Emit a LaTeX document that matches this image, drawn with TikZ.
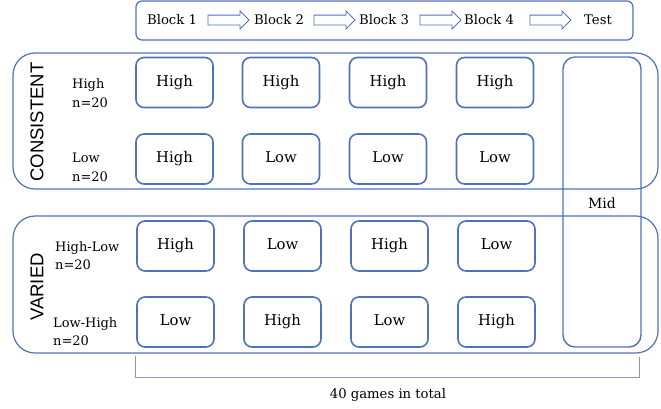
\documentclass[tikz,border=0pt]{standalone}
\usepackage{fontspec}
\setmainfont{DejaVu Serif}
\newfontfamily\grpfont{Liberation Sans}
\usetikzlibrary{shapes.arrows}
\definecolor{bl}{RGB}{80,114,188}
\definecolor{brk}{RGB}{140,150,172}
\begin{document}
\begin{tikzpicture}[x=1pt,y=-1pt,
  cell/.style={draw=bl,line width=1.6pt,rounded corners=8pt,minimum width=77pt,minimum height=50pt,inner sep=0pt,text height=0.73em,text depth=0pt,font=\fontsize{14.8}{17}\selectfont},
  group/.style={draw=bl,line width=1.2pt,rounded corners=22pt},
  blk/.style={font=\fontsize{13.2}{15}\selectfont,inner sep=0pt},
  flow/.style={single arrow,draw=bl,line width=0.9pt,minimum height=41pt,inner sep=4.5pt,single arrow head extend=4pt},
  rowlab/.style={align=left,anchor=west,inner sep=0pt,font=\fontsize{13}{18.5}\selectfont},
  grplab/.style={rotate=90,inner sep=0pt,font=\grpfont\fontsize{18.5}{20}\selectfont}]
\useasboundingbox (0,0) rectangle (661,408);
% top sequence box
\draw[draw=bl,line width=1.2pt,rounded corners=6pt] (136,1) rectangle (633,40);
\node[blk] (b1) at (172,20) {Block 1};
\node[blk] (b2) at (279,20) {Block 2};
\node[blk] (b3) at (384,20) {Block 3};
\node[blk] (b4) at (489,20) {Block 4};
\node[blk] (bt) at (598,20) {Test};
\node[flow] (a1) at (226,20) {};
\node[flow] (a2) at (332,20) {};
\node[flow] (a3) at (438,20) {};
\node[flow] (a4) at (548,20) {};
% group boxes
\draw[group] (13,53) rectangle (658,189);
\draw[group] (13,216) rectangle (658,353);
% test box
\draw[draw=bl,line width=1.4pt,rounded corners=12pt] (563,57) rectangle (641,347);
\node[blk,font=\fontsize{14}{16}\selectfont] (mid) at (602,203) {Mid};
% group labels
\node[grplab] (gc) at (37,122) {CONSISTENT};
\node[grplab] (gv) at (37,287) {VARIED};
% row labels
\node[rowlab] (r1) at (72,93) {High\\n=20};
\node[rowlab] (r2) at (72,167.5) {Low\\n=20};
\node[rowlab] (r3) at (55,255.5) {High-Low\\n=20};
\node[rowlab] (r4) at (53,331.5) {Low-High\\n=20};
% cells
\node[cell] (c11) at (174.5,82.5) {High};
\node[cell] (c12) at (281,82.5) {High};
\node[cell] (c13) at (388,82.5) {High};
\node[cell] (c14) at (495,82.5) {High};
\node[cell] (c21) at (174.5,159) {High};
\node[cell] (c22) at (281,159) {Low};
\node[cell] (c23) at (388,159) {Low};
\node[cell] (c24) at (495,159) {Low};
\node[cell] (c31) at (175.5,246) {High};
\node[cell] (c32) at (282.5,246) {Low};
\node[cell] (c33) at (389.5,246) {High};
\node[cell] (c34) at (496.5,246) {Low};
\node[cell] (c41) at (175.5,322) {Low};
\node[cell] (c42) at (282.5,322) {High};
\node[cell] (c43) at (389.5,322) {Low};
\node[cell] (c44) at (496.5,322) {High};
% bracket
\coordinate (k1) at (135,356);
\coordinate (k2) at (135,377);
\coordinate (k3) at (639,377);
\coordinate (k4) at (639,357);
\draw[brk,line width=1pt] (k1) -- (k2) -- (k3) -- (k4);
\node[blk,font=\fontsize{13.2}{15}\selectfont] (tot) at (388,395) {40 games in total};
\end{tikzpicture}
\end{document}
